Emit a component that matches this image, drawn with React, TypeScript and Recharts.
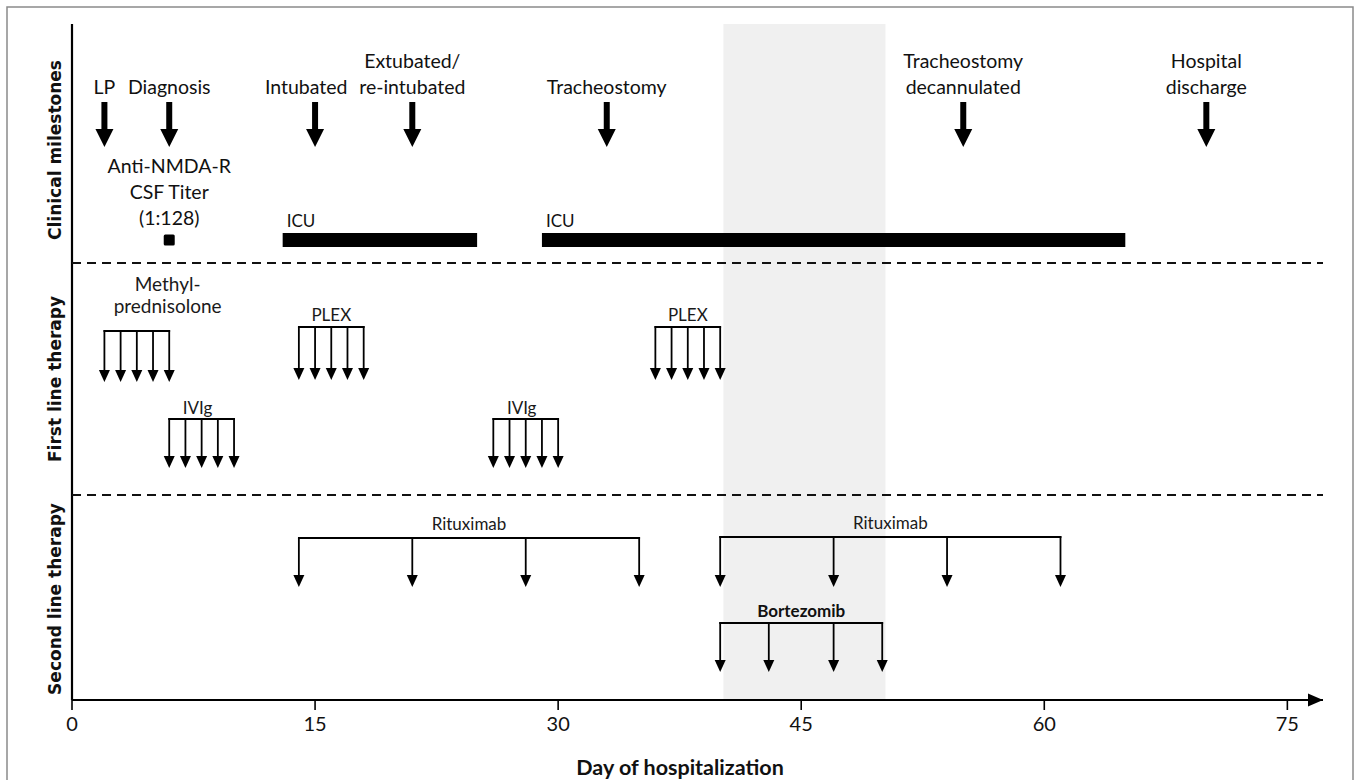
import React from 'react';
import { ComposedChart, XAxis, YAxis, Scatter, ReferenceLine, ReferenceArea } from 'recharts';

// ---------- data (days of hospitalization) ----------
const xTicks = [0, 15, 30, 45, 60, 75];
const xMax = 77.2;

const milestoneDays = [2, 6, 15, 21, 33, 55, 70];
const milestoneLabels = [
  ['LP'],
  ['Diagnosis'],
  ['Intubated'],
  ['Extubated/', 're-intubated'],
  ['Tracheostomy'],
  ['Tracheostomy', 'decannulated'],
  ['Hospital', 'discharge'],
];
const titerDay = 6;
const titerLabel = ['Anti-NMDA-R', 'CSF Titer', '(1:128)'];
const icuStartDays = [13, 29];
const icuEndDays = [25, 65];
const icuLabel = 'ICU';
const shadeDays = [40.2, 50.2];

const methylDays = [2, 3, 4, 5, 6];
const plex1Days = [14, 15, 16, 17, 18];
const plex2Days = [36, 37, 38, 39, 40];
const ivig1Days = [6, 7, 8, 9, 10];
const ivig2Days = [26, 27, 28, 29, 30];
const rituximab1Days = [14, 21, 28, 35];
const rituximab2Days = [40, 47, 54, 61];
const bortezomibDays = [40, 43, 47, 50];

const laneTitles = ['Clinical milestones', 'First line therapy', 'Second line therapy'];
const xTitle = 'Day of hospitalization';

// ---------- layout (vertical levels, measured down from the plot top) ----------
const PLOT_H = 676;
const L = {
  msLabel: 70, msTop: 78, msTip: 123,
  titer: 149, titerSq: 216,
  icuTop: 209, icuBot: 223, icuText: 203,
  dash1: 239, dash2: 471,
};
const msLabelShift = [0, 0, -0.55, 0, 0, 0, 0];
const laneTitleCenters = [150, 379, 599];

const FONT = 'Lato, "Noto Sans", sans-serif';

const makeText = (o: { size: number; lh: number; weight?: number; anchor?: string; dx?: number; fill?: string }) =>
  (p: any) => {
    const { cx, cy, payload } = p;
    const lines: string[] = payload.lines;
    const x = cx + (o.dx || 0);
    return (
      <text
        x={x}
        textAnchor={o.anchor || 'middle'}
        fontSize={o.size}
        fontWeight={o.weight || 400}
        fontFamily={FONT}
        fill={o.fill || '#111'}
      >
        {lines.map((l, i) => (
          <tspan key={i} x={x} y={cy - (lines.length - 1 - i) * o.lh}>
            {l}
          </tspan>
        ))}
      </text>
    );
  };

const BigHead = (p: any) => {
  const { cx, cy } = p;
  return <polygon points={`${cx - 9},${cy - 18} ${cx + 9},${cy - 18} ${cx},${cy}`} fill="#000" />;
};
const SmallHead = (p: any) => {
  const { cx, cy } = p;
  return <polygon points={`${cx - 5.5},${cy - 12} ${cx + 5.5},${cy - 12} ${cx},${cy}`} fill="#000" />;
};
const AxisHead = (p: any) => {
  const { cx, cy } = p;
  return <polygon points={`${cx - 15},${cy - 6.5} ${cx - 15},${cy + 6.5} ${cx},${cy}`} fill="#000" />;
};
const Square = (p: any) => {
  const { cx, cy } = p;
  return <rect x={cx - 5.5} y={cy - 5.5} width={11} height={11} rx={1.5} fill="#000" />;
};

const msText = makeText({ size: 19.5, lh: 26 });
const therapyText = makeText({ size: 17, lh: 22, fill: '#1a1a1a' });
const therapyLarge = makeText({ size: 19, lh: 22, fill: '#1a1a1a' });
const therapyBold = makeText({ size: 17, lh: 22, weight: 700, fill: '#111' });
const icuText = makeText({ size: 17, lh: 20, anchor: 'start', dx: 4 });

type Course = {
  key: string;
  days: number[];
  label: string[];
  labelDay: number;
  labelBase: number;
  bracket: number;
  tip: number;
  style?: 'bold' | 'large';
};

const courses: Course[] = [
  { key: 'methyl', days: methylDays, label: ['Methyl-', 'prednisolone'], labelDay: 5.9, labelBase: 289, bracket: 307, tip: 358, style: 'large' },
  { key: 'plex1', days: plex1Days, label: ['PLEX'], labelDay: 16, labelBase: 297, bracket: 303, tip: 356 },
  { key: 'plex2', days: plex2Days, label: ['PLEX'], labelDay: 38, labelBase: 297, bracket: 303, tip: 356 },
  { key: 'ivig1', days: ivig1Days, label: ['IVIg'], labelDay: 7.75, labelBase: 390, bracket: 395, tip: 444 },
  { key: 'ivig2', days: ivig2Days, label: ['IVIg'], labelDay: 27.75, labelBase: 390, bracket: 395, tip: 444 },
  { key: 'ritux1', days: rituximab1Days, label: ['Rituximab'], labelDay: 24.5, labelBase: 506, bracket: 514, tip: 563 },
  { key: 'ritux2', days: rituximab2Days, label: ['Rituximab'], labelDay: 50.5, labelBase: 505, bracket: 513, tip: 563 },
  { key: 'bortez', days: bortezomibDays, label: ['Bortezomib'], labelDay: 45, labelBase: 593, bracket: 599, tip: 648, style: 'bold' },
];

export default function App() {
  const milestoneLabelData = milestoneDays.map((d, i) => ({ x: d + msLabelShift[i], y: L.msLabel, lines: milestoneLabels[i] }));
  const milestoneHeadData = milestoneDays.map((d) => ({ x: d, y: L.msTip }));

  return (
    <div style={{ position: 'absolute', left: 0, top: 0, width: 1358, height: 780, background: '#fff' }}>
      <ComposedChart
        width={1358}
        height={780}
        margin={{ top: 24, right: 35, left: 72, bottom: 10 }}
        style={{ fontFamily: FONT }}
      >
        <XAxis
          type="number"
          dataKey="x"
          domain={[0, xMax]}
          ticks={xTicks}
          height={70}
          tickSize={10}
          tickMargin={7}
          axisLine={{ stroke: '#000', strokeWidth: 2.2 }}
          tickLine={{ stroke: '#000', strokeWidth: 1.6 }}
          tick={{ fontSize: 20, fill: '#111', fontFamily: FONT }}
        />
        <YAxis type="number" dataKey="y" domain={[0, PLOT_H]} reversed hide width={0} />

        {/* shaded period */}
        <ReferenceArea x1={shadeDays[0]} x2={shadeDays[1]} y1={0} y2={PLOT_H} fill="#f0f0f0" fillOpacity={1} stroke="none" />

        {/* y axis line */}
        <ReferenceLine x={0} stroke="#000" strokeWidth={2.2} />

        {/* lane separators */}
        <ReferenceLine y={L.dash1} stroke="#111" strokeWidth={2} strokeDasharray="9 6" />
        <ReferenceLine y={L.dash2} stroke="#111" strokeWidth={2} strokeDasharray="9 6" />

        {/* ICU bars */}
        {icuStartDays.map((s, i) => (
          <ReferenceArea key={'icu' + i} x1={s} x2={icuEndDays[i]} y1={L.icuTop} y2={L.icuBot} fill="#000" fillOpacity={1} stroke="none" />
        ))}
        <Scatter
          data={icuStartDays.map((s) => ({ x: s, y: L.icuText, lines: [icuLabel] }))}
          shape={icuText}
          isAnimationActive={false}
        />

        {/* milestone arrows */}
        {milestoneDays.map((d, i) => (
          <ReferenceLine
            key={'ms' + i}
            segment={[{ x: d, y: L.msTop }, { x: d, y: L.msTip - 14 }]}
            stroke="#000"
            strokeWidth={6}
          />
        ))}
        <Scatter data={milestoneHeadData} shape={BigHead} isAnimationActive={false} />
        <Scatter data={milestoneLabelData} shape={msText} isAnimationActive={false} />

        {/* titer */}
        <Scatter
          data={[{ x: titerDay, y: L.titer + 2 * 26, lines: titerLabel }]}
          shape={msText}
          isAnimationActive={false}
        />
        <Scatter data={[{ x: titerDay, y: L.titerSq }]} shape={Square} isAnimationActive={false} />

        {/* therapy courses */}
        {courses.map((c) => (
          <ReferenceLine
            key={c.key + 'br'}
            segment={[{ x: c.days[0], y: c.bracket }, { x: c.days[c.days.length - 1], y: c.bracket }]}
            stroke="#000"
            strokeWidth={1.8}
            strokeLinecap="square"
          />
        ))}
        {courses.map((c) =>
          c.days.map((d, i) => (
            <ReferenceLine
              key={c.key + 'st' + i}
              segment={[{ x: d, y: c.bracket }, { x: d, y: c.tip - 8 }]}
              stroke="#000"
              strokeWidth={1.8}
              strokeLinecap="square"
            />
          ))
        )}
        {courses.map((c) => (
          <Scatter
            key={c.key + 'hd'}
            data={c.days.map((d) => ({ x: d, y: c.tip }))}
            shape={SmallHead}
            isAnimationActive={false}
          />
        ))}
        {courses.map((c) => (
          <Scatter
            key={c.key + 'lb'}
            data={[{ x: c.labelDay, y: c.labelBase, lines: c.label }]}
            shape={c.style === 'bold' ? therapyBold : c.style === 'large' ? therapyLarge : therapyText}
            isAnimationActive={false}
          />
        ))}

        {/* x-axis arrow head */}
        <Scatter data={[{ x: xMax, y: PLOT_H }]} shape={AxisHead} isAnimationActive={false} />
      </ComposedChart>

      <svg
        width={1358}
        height={780}
        style={{ position: 'absolute', left: 0, top: 0, pointerEvents: 'none' }}
      >
        <rect x={7} y={7} width={1346} height={790} fill="none" stroke="#8a8a8a" strokeWidth={1.5} />
        {laneTitles.map((t, i) => {
          const cy = laneTitleCenters[i];
          return (
            <text
              key={t}
              x={55}
              y={cy}
              transform={`rotate(-90 55 ${cy})`}
              textAnchor="middle"
              dominantBaseline="central"
              fontFamily='"DejaVu Sans", sans-serif'
              fontWeight={700}
              fontSize={17}
              fill="#111"
            >
              {t}
            </text>
          );
        })}
        <text x={680} y={775} textAnchor="middle" fontFamily={FONT} fontWeight={700} fontSize={21.5} fill="#111">
          {xTitle}
        </text>
      </svg>
    </div>
  );
}
